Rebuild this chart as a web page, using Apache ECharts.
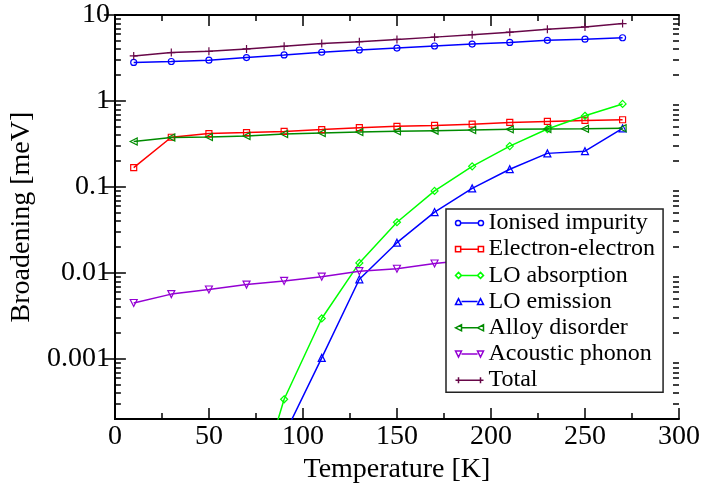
<!DOCTYPE html>
<html>
<head>
<meta charset="utf-8">
<script src="https://cdn.jsdelivr.net/npm/echarts@6/dist/echarts.min.js"></script>
<style>
  html, body { margin: 0; padding: 0; background: #fff; }
  #chart { width: 704px; height: 489px; }
</style>
</head>
<body>
<div id="chart"></div>
<script>
// Temperatures (K) at which each scattering contribution was evaluated
const temperatures = [10, 30, 50, 70, 90, 110, 130, 150, 170, 190, 210, 230, 250, 270];

// Broadening (meV) per mechanism
const ionisedImpurity = [2.81, 2.88, 2.98, 3.20, 3.43, 3.69, 3.92, 4.13, 4.36, 4.59, 4.80, 5.07, 5.24, 5.44];
const electronElectron = [0.168, 0.379, 0.418, 0.429, 0.443, 0.465, 0.49, 0.507, 0.52, 0.538, 0.564, 0.578, 0.594, 0.605];
const loAbsorption = [null, null, null, 1.2e-5, 0.00034, 0.00296, 0.0131, 0.0389, 0.090, 0.174, 0.299, 0.472, 0.673, 0.924];
const loEmission = [null, null, null, null, 0.00013, 0.00103, 0.00845, 0.0225, 0.0511, 0.0964, 0.161, 0.246, 0.261, 0.481];
const alloyDisorder = [0.338, 0.376, 0.381, 0.392, 0.413, 0.425, 0.436, 0.444, 0.452, 0.459, 0.468, 0.472, 0.476, 0.481];
const acousticPhonon = [0.00448, 0.00568, 0.00643, 0.00734, 0.00809, 0.00906, 0.0105, 0.0112, 0.0129, 0.0143, 0.0158, 0.0172, 0.0187, 0.0202];
const total = [3.34, 3.66, 3.78, 4.03, 4.33, 4.65, 4.90, 5.20, 5.53, 5.89, 6.31, 6.83, 7.27, 7.94];

// Axis labels
const xTicks = [0, 50, 100, 150, 200, 250, 300];
const yTickValues = [0.001, 0.01, 0.1, 1, 10];
const yTickLabels = ['0.001', '0.01', '0.1', '1', '10'];

const FONT = '"Liberation Serif", "Times New Roman", Times, serif';

// Minor ticks of the log axis at 2..9 times each decade
const yMinor = [];
for (let e = -4; e <= 0; e++) {
  for (let m = 2; m <= 9; m++) {
    const v = m * Math.pow(10, e);
    if (v >= 0.0002 && v <= 10) yMinor.push(v);
  }
}

// Legend icon: line with a marker at each end
const markerShapes = {
  circle: x => `M${x - 2.5},4 A2.5,2.5 0 1 1 ${x + 2.5},4 A2.5,2.5 0 1 1 ${x - 2.5},4 Z`,
  square: x => `M${x - 2.5},1.5 L${x + 2.5},1.5 L${x + 2.5},6.5 L${x - 2.5},6.5 Z`,
  diamond: x => `M${x},1 L${x + 3},4 L${x},7 L${x - 3},4 Z`,
  up: x => `M${x},1 L${x + 3},7 L${x - 3},7 Z`,
  left: x => `M${x - 3},4 L${x + 3},1 L${x + 3},7 Z`,
  down: x => `M${x - 3},1 L${x + 3},1 L${x},7 Z`,
  plus: x => `M${x},1 L${x},7 M${x - 3},4 L${x + 3},4`
};
function legendIcon(shape) {
  return 'path://' + markerShapes[shape](3) + ' M6,4 L22,4 ' + markerShapes[shape](25);
}

const seriesDefs = [
  { name: 'Ionised impurity', values: ionisedImpurity, color: '#0000ff', symbol: 'circle', shape: 'circle', size: 6 },
  { name: 'Electron-electron', values: electronElectron, color: '#ff0000', symbol: 'rect', shape: 'square', size: 6 },
  { name: 'LO absorption', values: loAbsorption, color: '#00ff00', symbol: 'diamond', shape: 'diamond', size: 7 },
  { name: 'LO emission', values: loEmission, color: '#0000ff', symbol: 'triangle', shape: 'up', size: 7 },
  { name: 'Alloy disorder', values: alloyDisorder, color: '#008b00', symbol: 'path://M0,5L10,0L10,10Z', shape: 'left', size: 7 },
  { name: 'Acoustic phonon', values: acousticPhonon, color: '#9400d3', symbol: 'path://M0,0L10,0L5,10Z', shape: 'down', size: 7 },
  { name: 'Total', values: total, color: '#670748', symbol: 'path://M5,0L5,10M0,5L10,5', shape: 'plus', size: 8 }
];

const series = seriesDefs.map(s => ({
  name: s.name,
  type: 'line',
  xAxisIndex: 0,
  yAxisIndex: 0,
  data: temperatures.map((t, i) => [t, s.values[i]]),
  symbol: s.symbol,
  symbolSize: s.size,
  showAllSymbol: true,
  connectNulls: false,
  clip: true,
  lineStyle: { color: s.color, width: 1.5 },
  itemStyle: { color: 'rgba(255,255,255,0)', borderColor: s.color, borderWidth: 1.2 },
  emphasis: { disabled: true },
  animation: false
}));

const axisLineStyle = { color: '#000', width: 2 };

function xAxisDef(pos, labels) {
  return {
    type: 'value',
    position: pos,
    min: 0, max: 300, interval: 50,
    axisLine: { show: true, lineStyle: axisLineStyle },
    axisTick: { show: true, inside: true, length: 11, lineStyle: { color: '#000', width: 1.5 } },
    minorTick: { show: true, splitNumber: 2, length: 6, lineStyle: { color: '#000', width: 1.5 } },
    splitLine: { show: false },
    minorSplitLine: { show: false },
    axisLabel: labels ? {
      show: true, margin: 4, color: '#000', fontFamily: FONT, fontSize: 28,
      formatter: v => String(v)
    } : { show: false },
    name: labels ? 'Temperature [K]' : '',
    nameLocation: 'middle',
    nameGap: 26,
    nameTextStyle: { fontFamily: FONT, fontSize: 28, color: '#000' }
  };
}

function yAxisDef(pos, major, withLabels, withName) {
  return {
    type: 'log',
    logBase: 10,
    position: pos,
    min: 0.0002, max: 10,
    axisLine: { show: major, lineStyle: axisLineStyle },
    axisTick: {
      show: true, inside: true, length: major ? 11 : 6,
      customValues: major ? yTickValues : yMinor,
      lineStyle: { color: '#000', width: 1.5 }
    },
    minorTick: { show: false },
    splitLine: { show: false },
    axisLabel: withLabels ? {
      show: true, margin: 5, color: '#000', fontFamily: FONT, fontSize: 28,
      customValues: yTickValues,
      formatter: v => {
        let best = 0, bestD = Infinity;
        yTickValues.forEach((t, i) => {
          const d = Math.abs(Math.log10(v) - Math.log10(t));
          if (d < bestD) { bestD = d; best = i; }
        });
        return yTickLabels[best];
      }
    } : { show: false },
    name: withName ? 'Broadening [meV]' : '',
    nameLocation: 'middle',
    nameGap: 72,
    nameTextStyle: { fontFamily: FONT, fontSize: 28, color: '#000' }
  };
}

const chart = echarts.init(document.getElementById('chart'), null, { renderer: 'canvas' });
chart.setOption({
  animation: false,
  backgroundColor: '#fff',
  grid: { left: 113, right: 25, top: 15, bottom: 64.5, containLabel: false },
  xAxis: [xAxisDef('bottom', true), xAxisDef('top', false)],
  yAxis: [
    yAxisDef('left', true, true, true),
    yAxisDef('right', true, false, false),
    yAxisDef('left', false, false, false),
    yAxisDef('right', false, false, false)
  ],
  legend: {
    orient: 'vertical',
    left: 446,
    top: 209,
    backgroundColor: '#fff',
    borderColor: '#222',
    borderWidth: 1.5,
    borderRadius: 0,
    padding: [2, 8, 0, 7],
    itemGap: 2.2,
    itemWidth: 28,
    itemHeight: 6,
    selectedMode: false,
    textStyle: { fontFamily: FONT, fontSize: 24, color: '#000' },
    data: seriesDefs.map(s => ({
      name: s.name,
      icon: legendIcon(s.shape),
      itemStyle: { color: 'none', borderColor: s.color, borderWidth: 1.5 }
    }))
  },
  series: series
});
</script>
</body>
</html>
